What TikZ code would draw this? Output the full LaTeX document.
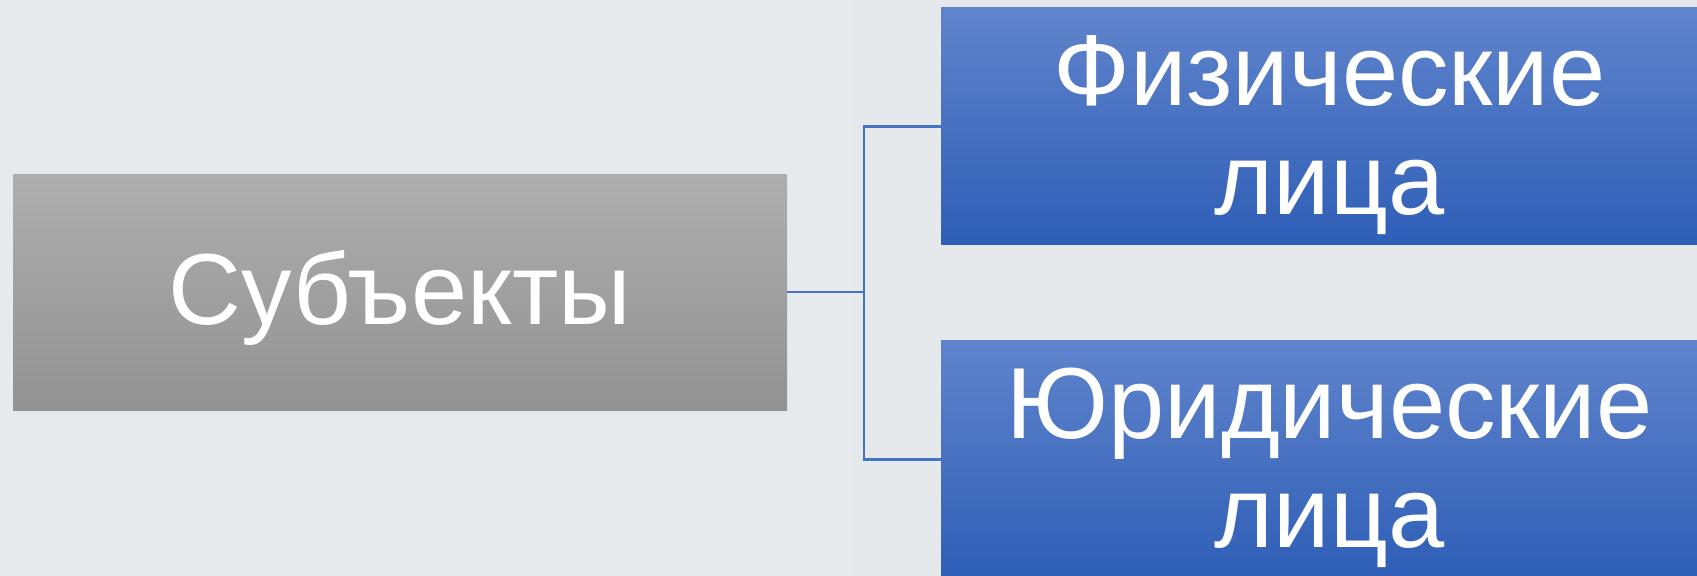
\documentclass[tikz,border=0pt]{standalone}
\usepackage{fontspec}
\setmainfont{Liberation Sans}
\begin{document}
\begin{tikzpicture}[x=0.5pt,y=-0.5pt,
  boxtext/.style={font=\fontsize{50.5pt}{54.7pt}\selectfont, text=white, align=center, inner sep=0pt},
  graybox/.style={rectangle, inner sep=0pt, minimum width=387pt, minimum height=118.25pt,
     top color=gray1, bottom color=gray2},
  bluebox/.style={rectangle, inner sep=0pt, minimum width=388.5pt, minimum height=118.5pt,
     top color=blue1, middle color=blue2, bottom color=blue3},
  conn/.style={draw=connblue, line width=1.1pt}
]
\definecolor{gray1}{HTML}{AEAEAE}
\definecolor{gray2}{HTML}{929292}
\definecolor{blue1}{HTML}{6084CC}
\definecolor{blue2}{HTML}{3A6EC8}
\definecolor{blue3}{HTML}{2E5EB6}
\definecolor{connblue}{HTML}{4472C4}
\definecolor{bg1}{HTML}{E6EAED}
\definecolor{bg2}{HTML}{F3F5F6}
\definecolor{bg3}{HTML}{E6E9EB}
\clip (0,0) rectangle (1697,576);
\shade[left color=bg1, middle color=bg2, right color=bg3] (0,0) rectangle (1697,576);
\node[graybox] (subj) at (400,292.3) {};
\node[boxtext] (subjtext) at ([yshift=-2.7pt]subj.center) {Субъекты};
\node[bluebox] (fiz) at (1329.5,126.5) {};
\node[boxtext] (fiztext) at ([yshift=-4.3pt]fiz.center) {Физические\\лица};
\node[bluebox] (yur) at (1329.5,459.5) {};
\node[boxtext] (yurtext) at ([yshift=-4.3pt]yur.center) {Юридические\\лица};
\coordinate (bus) at (864,292.3);
\draw[conn] (subj.east) -- (bus) |- (fiz.west);
\draw[conn] (bus) |- (yur.west);
\end{tikzpicture}
\end{document}
